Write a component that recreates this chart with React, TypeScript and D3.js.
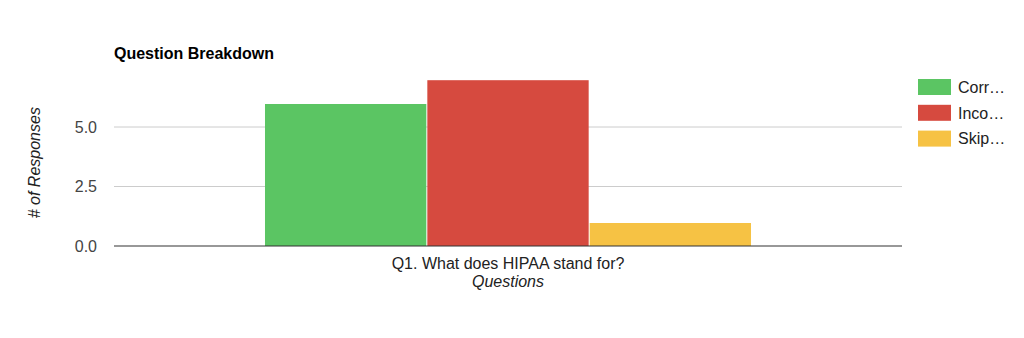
import React from "react";
import * as d3 from "d3";

const categories = ["Q1. What does HIPAA stand for?"];
const seriesNames = ["Corr…", "Inco…", "Skip…"];
const seriesColors = ["#5bc563", "#d64a3f", "#f6c244"];
const correct = [6];
const incorrect = [7];
const skipped = [1];
const yTicks = [0, 2.5, 5];

const W = 1024;
const H = 338;
const left = 114;
const right = 902;
const bottom = 246;
const top = 246 - 7 * 23.8;
const font = "'Liberation Sans', Arial, sans-serif";

export default function App() {
  const series = [correct, incorrect, skipped];
  const x0 = d3.scaleBand<string>().domain(categories).range([left, right]).paddingInner(0).paddingOuter(0.309);
  const x1 = d3.scaleBand<number>().domain(d3.range(seriesNames.length)).range([0, x0.bandwidth()]);
  const y = d3.scaleLinear().domain([0, 7]).range([bottom, top]);
  const fmt = d3.format(".1f");

  return (
    <svg width={W} height={H} style={{ position: "absolute", left: 0, top: 0, background: "#fff" }} fontFamily={font}>
      <text x={114} y={59} fontSize={16} fontWeight="bold" fill="#000">Question Breakdown</text>
      {yTicks.map((t) => (
        <g key={t}>
          {t !== 0 && <line x1={left} x2={right} y1={y(t)} y2={y(t)} stroke="#cccccc" strokeWidth={1} />}
          <text x={97} y={y(t)} dy="0.36em" textAnchor="end" fontSize={16} fill="#444">{fmt(t)}</text>
        </g>
      ))}
      {categories.map((c, ci) => (
        <g key={c} transform={`translate(${x0(c)},0)`}>
          {series.map((s, si) => (
            <rect key={si} x={(x1(si) as number) + 0.5} width={x1.bandwidth() - 1} y={y(s[ci]) + 0.8} height={y(0) - y(s[ci]) - 0.8} fill={seriesColors[si]} />
          ))}
        </g>
      ))}
      <line x1={left} x2={right} y1={bottom} y2={bottom} stroke="#333" strokeWidth={1.2} />
      {categories.map((c) => (
        <text key={c} x={(x0(c) as number) + x0.bandwidth() / 2} y={269} textAnchor="middle" fontSize={16} fill="#222">{c}</text>
      ))}
      <text x={(left + right) / 2} y={287} textAnchor="middle" fontSize={16} fontStyle="italic" fill="#222">Questions</text>
      <text transform={`translate(40,${(top + bottom) / 2}) rotate(-90)`} textAnchor="middle" fontSize={16} fontStyle="italic" fill="#222"># of Responses</text>
      {seriesNames.map((n, i) => (
        <g key={n} transform={`translate(918,${79 + i * 25.8})`}>
          <rect width={33} height={16} fill={seriesColors[i]} />
          <text x={40} y={8} dy="0.36em" fontSize={16} fill="#222">{n}</text>
        </g>
      ))}
    </svg>
  );
}
